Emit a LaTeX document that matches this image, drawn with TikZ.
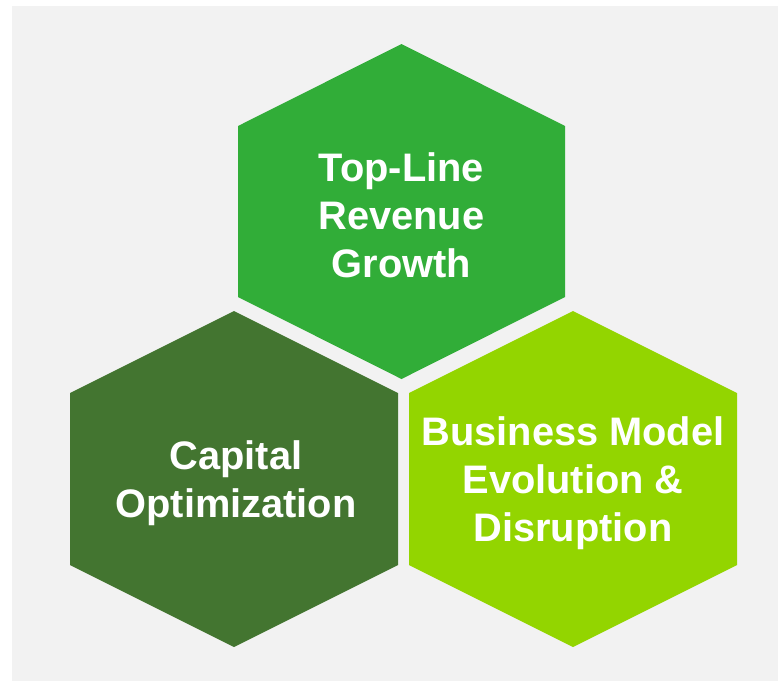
\documentclass[tikz,border=0pt]{standalone}
\usepackage{fontspec}
\setmainfont{Liberation Sans}
\definecolor{bggray}{HTML}{F2F2F2}
\definecolor{topgreen}{HTML}{31AD38}
\definecolor{darkgreen}{HTML}{437530}
\definecolor{limegreen}{HTML}{93D500}
\begin{document}
\begin{tikzpicture}[x=1pt,y=-1pt,
  hextext/.style={text=white,font=\fontsize{39.8}{48}\selectfont\bfseries,align=center,inner sep=0pt}]
\useasboundingbox (0,0) rectangle (778,681);
\fill[white] (0,0) rectangle (778,681);
\fill[bggray] (12,6) rectangle (778,681);
% top hexagon
\fill[topgreen] (401.5,44) -- (565,126) -- (565,297) -- (401.5,379) -- (238,297) -- (238,126) -- cycle;
% left hexagon
\fill[darkgreen] (234,311) -- (398,393) -- (398,565) -- (234,647) -- (70,565) -- (70,393) -- cycle;
% right hexagon
\fill[limegreen] (573,311) -- (737,393) -- (737,565) -- (573,647) -- (409,565) -- (409,393) -- cycle;
\node[hextext] (top) at (401.5,215) {Top-Line\\Revenue\\Growth};
\node[hextext] (left) at (236,483) {Capital\\Optimization};
\node[hextext] (right) at (573,483) {Business Model\\Evolution \&\\Disruption};
\end{tikzpicture}
\end{document}
